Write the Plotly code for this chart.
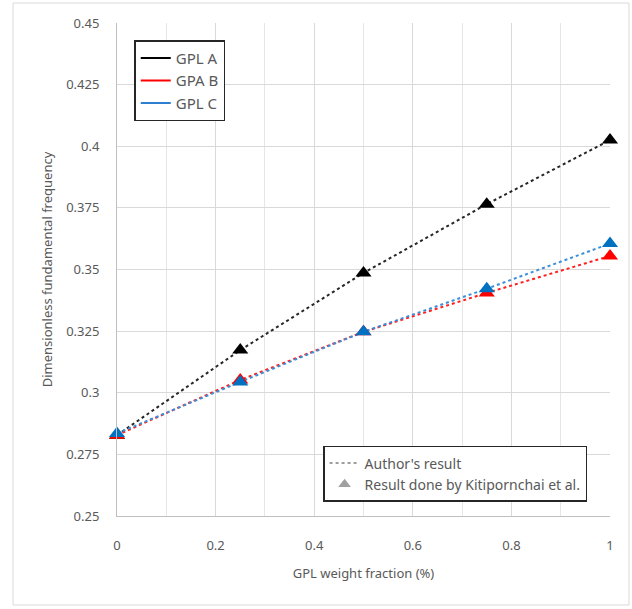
import plotly.graph_objects as go

x_vals = [0, 0.25, 0.5, 0.75, 1.0]
gpl_a = [0.2828, 0.3173, 0.3486, 0.3765, 0.4025]
gpa_b = [0.2828, 0.3052, 0.3247, 0.3405, 0.3555]
gpl_c = [0.2835, 0.3044, 0.3247, 0.3422, 0.3605]
series_names = ["GPL A", "GPA B", "GPL C"]
line_colors = ["#262626", "#ff2020", "#3b8fd9"]
marker_colors = ["#000000", "#ff0000", "#0070c0"]

fig = go.Figure()
for name, ys, lc, mc in zip(series_names, [gpl_a, gpa_b, gpl_c], line_colors, marker_colors):
    fig.add_trace(go.Scatter(x=x_vals, y=ys, mode="lines", line=dict(color=lc, width=2, dash="dot"),
                             showlegend=False, hoverinfo="skip", cliponaxis=False))
for name, ys, lc, mc in zip(series_names, [gpl_a, gpa_b, gpl_c], line_colors, marker_colors):
    fig.add_trace(go.Scatter(x=x_vals, y=ys, mode="markers", cliponaxis=False,
                             marker=dict(symbol="triangle-up", size=14, color=mc),
                             showlegend=False))
# legend 1 entries
for name, mc in zip(series_names, ["#000000", "#ff0000", "#2e7fcf"]):
    fig.add_trace(go.Scatter(x=[None], y=[None], mode="lines", name=name,
                             line=dict(color=mc, width=2), legend="legend"))
# legend 2 entries
fig.add_trace(go.Scatter(x=[None], y=[None], mode="lines", name="Author's result",
                         line=dict(color="#7f7f7f", width=1.5, dash="dot"), legend="legend2"))
fig.add_trace(go.Scatter(x=[None], y=[None], mode="markers", name="Result done by Kitipornchai et al.",
                         marker=dict(symbol="triangle-up", size=11, color="#a0a0a0"), legend="legend2"))

font_fam = "Noto Sans"
fig.update_layout(
    width=632, height=609,
    margin=dict(l=117, r=22, t=23, b=93),
    paper_bgcolor="white", plot_bgcolor="white",
    font=dict(family=font_fam, size=13, color="#595959"),
    showlegend=True,
    legend=dict(x=0.035, y=0.965, xanchor="left", yanchor="top",
                bordercolor="#262626", borderwidth=1.5, bgcolor="white",
                font=dict(size=15, color="#595959"), itemwidth=30, tracegroupgap=0),
    legend2=dict(x=0.418, y=0.142, xanchor="left", yanchor="top",
                 bordercolor="#262626", borderwidth=1.5, bgcolor="white",
                 font=dict(size=14, color="#595959"), itemwidth=30),
    xaxis=dict(range=[0, 1], dtick=0.2, tick0=0, showgrid=True, gridcolor="#d9d9d9", gridwidth=1,
               minor=dict(dtick=0.1, showgrid=True, gridcolor="#e6e6e6"),
               showline=True, linecolor="#bfbfbf", linewidth=1, zeroline=False,
               ticks="", ticklabelstandoff=17, tickformat="~g",
               title=dict(text="GPL weight fraction (%)", standoff=16, font=dict(size=13)),
               mirror=False),
    yaxis=dict(range=[0.25, 0.45], dtick=0.025, tick0=0.25, showgrid=True, gridcolor="#d9d9d9",
               showline=True, linecolor="#bfbfbf", linewidth=1, zeroline=False,
               ticks="", ticklabelstandoff=14, tickformat="~g",
               title=dict(text="Dimensionless fundamental frequency", standoff=10, font=dict(size=13))),
    shapes=[dict(type="rect", xref="paper", yref="paper",
                 x0=(13 - 117) / 493, x1=(629 - 117) / 493,
                 y0=(516 - 605) / 493, y1=(516 - 3) / 493,
                 line=dict(color="#d9d9d9", width=1), fillcolor="rgba(0,0,0,0)", layer="below")],
)
fig.write_html("out.html")
